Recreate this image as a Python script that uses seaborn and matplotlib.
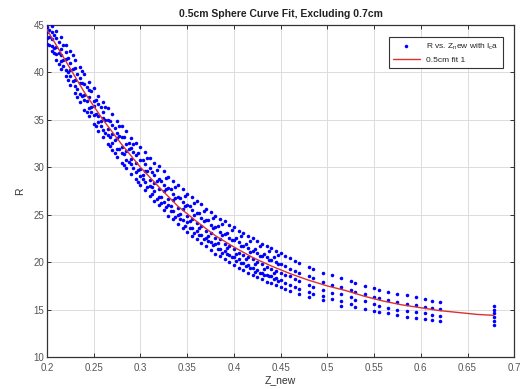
import numpy as np
import pandas as pd
import matplotlib
matplotlib.use("Agg")
import matplotlib.pyplot as plt
import seaborn as sns

z_cols = [
    0.200, 0.205, 0.210, 0.215, 0.220, 0.225, 0.230, 0.235, 0.240, 0.245,
    0.250, 0.255, 0.260, 0.265, 0.270, 0.275, 0.280, 0.285, 0.290, 0.295,
    0.300, 0.305, 0.310, 0.315, 0.320, 0.325, 0.330, 0.335, 0.340, 0.345,
    0.350, 0.355, 0.360, 0.365, 0.370, 0.375, 0.380, 0.385, 0.390, 0.395,
    0.400, 0.405, 0.410, 0.415, 0.420, 0.425, 0.430, 0.435, 0.440, 0.445,
    0.450, 0.455, 0.460, 0.465, 0.470, 0.480, 0.485, 0.495, 0.505, 0.515,
    0.525, 0.530, 0.540, 0.550, 0.555, 0.565, 0.575, 0.585, 0.595, 0.605,
    0.612, 0.620, 0.678,
]
r_cols = [
    [44.8, 44.2, 43.6, 43.0],
    [44.9, 44.3, 43.5, 42.8, 42.2],
    [44.4, 43.6, 42.7, 41.9, 41.3],
    [43.7, 42.5, 41.8, 41.2, 40.4],
    [42.9, 42.1, 41.4, 40.2, 39.6],
    [42.2, 41.0, 40.3, 39.6, 38.7],
    [41.3, 40.5, 39.2, 38.6, 37.8],
    [40.6, 39.4, 38.9, 37.7, 36.9],
    [39.8, 38.8, 37.6, 37.1, 36.0],
    [39.0, 38.1, 37.4, 36.2, 35.4],
    [38.4, 37.0, 36.5, 35.5, 34.6],
    [37.5, 36.7, 35.4, 34.8, 33.8],
    [36.9, 35.8, 35.2, 33.9, 33.2],
    [36.2, 35.0, 34.0, 33.4, 32.5],
    [35.6, 34.5, 33.5, 32.6, 31.8],
    [34.9, 33.6, 33.1, 31.9, 31.1],
    [34.3, 33.2, 32.1, 31.5, 30.5],
    [33.8, 32.4, 31.7, 30.8, 29.9],
    [33.1, 32.0, 30.9, 30.3, 29.3],
    [32.6, 31.3, 30.5, 29.5, 28.8],
    [32.1, 30.8, 29.8, 29.1, 28.1],
    [31.6, 30.3, 29.6, 28.4, 27.6],
    [31.0, 29.9, 28.7, 28.0, 27.0],
    [30.5, 29.2, 28.3, 27.5, 26.4],
    [30.1, 28.8, 27.7, 26.9, 26.0],
    [29.6, 28.1, 27.5, 26.3, 25.5],
    [29.0, 27.8, 26.7, 26.0, 24.9],
    [28.6, 27.2, 26.5, 25.4, 24.5],
    [28.1, 26.9, 25.7, 25.0, 24.0],
    [27.7, 26.3, 25.6, 24.4, 23.6],
    [27.2, 26.0, 24.9, 24.2, 23.2],
    [26.9, 25.5, 24.6, 23.6, 22.8],
    [26.4, 25.2, 24.1, 23.3, 22.4],
    [26.1, 24.7, 23.8, 22.9, 22.0],
    [25.6, 24.4, 23.3, 22.6, 21.7],
    [25.3, 23.9, 23.1, 22.1, 21.3],
    [24.9, 23.7, 22.6, 21.9, 20.9],
    [24.6, 23.2, 22.4, 21.4, 20.6],
    [24.3, 23.0, 21.9, 21.2, 20.3],
    [23.9, 22.6, 21.7, 20.8, 20.0],
    [23.7, 22.3, 21.4, 20.5, 19.7],
    [23.3, 22.1, 21.0, 20.3, 19.4],
    [23.1, 21.7, 20.8, 19.9, 19.2],
    [22.8, 21.5, 20.5, 19.7, 18.9],
    [22.5, 21.2, 20.3, 19.4, 18.6],
    [22.2, 21.0, 20.0, 19.2, 18.4],
    [21.9, 20.7, 19.8, 18.9, 18.2],
    [21.7, 20.5, 19.5, 18.7, 17.9],
    [21.5, 20.2, 19.3, 18.5, 17.8],
    [21.2, 20.0, 19.1, 18.3, 17.6],
    [21.0, 19.8, 18.9, 18.1, 17.4],
    [20.7, 19.6, 18.6, 17.8, 17.2],
    [20.4, 19.3, 18.5, 17.6, 17.0],
    [20.1, 19.1, 18.2, 17.4],
    [19.9, 18.9, 18.0, 17.2, 16.7],
    [19.5, 18.5, 17.6, 16.9, 16.3],
    [19.3, 18.3, 17.4, 16.6],
    [18.9, 17.9, 17.1, 16.4, 16.0],
    [18.6, 17.6, 16.8, 16.1],
    [18.3, 17.4, 16.6, 15.9, 15.4],
    [18.0, 17.1, 16.3, 15.6],
    [17.8, 16.9, 16.0, 15.3],
    [17.5, 16.6, 15.9, 15.1],
    [17.3, 16.3, 15.6, 14.9],
    [17.1, 16.2, 15.4, 14.7],
    [16.9, 16.0, 15.2, 14.6],
    [16.6, 15.8, 15.0, 14.4],
    [16.5, 15.6, 14.9, 14.2],
    [16.3, 15.5, 14.7, 14.1],
    [16.1, 15.3, 14.6, 14.0],
    [15.9, 15.2, 14.4, 13.9],
    [15.8, 15.1, 14.3, 13.8],
    [15.4, 15.0, 14.6, 14.2, 13.8, 13.4],
]

# in-between columns in the dense part of the cloud
z_cols_b = [
    0.2025, 0.2075, 0.2125, 0.2175, 0.2225, 0.2275, 0.2325, 0.2375, 0.2425, 0.2475,
    0.2525, 0.2575, 0.2625, 0.2675, 0.2725, 0.2775, 0.2825, 0.2875, 0.2925, 0.2975,
    0.3025, 0.3075, 0.3125, 0.3175, 0.3225, 0.3275, 0.3325, 0.3375, 0.3425, 0.3475,
    0.3525, 0.3575, 0.3625, 0.3675, 0.3725, 0.3775, 0.3825, 0.3875, 0.3925, 0.3975,
    0.4025, 0.4075, 0.4125, 0.4175, 0.4225, 0.4275, 0.4325, 0.4375, 0.4425, 0.4475,
]
r_cols_b = [
    [44.5, 43.7, 42.9], [43.9, 42.6, 42.0], [43.2, 42.0, 40.9], [42.9, 41.3, 40.7],
    [41.5, 40.0, 39.2], [41.8, 40.4, 39.1], [39.8, 38.2, 37.4], [40.1, 38.9, 37.5],
    [38.5, 37.0, 35.8], [38.0, 36.3, 35.8], [37.1, 35.6, 34.3], [36.4, 34.9, 34.4],
    [36.3, 35.0, 33.6], [34.9, 33.2, 32.2], [34.1, 32.9, 31.5], [34.3, 33.3, 31.9],
    [33.2, 31.4, 30.2], [32.6, 31.9, 30.6], [32.4, 31.6, 29.9], [31.5, 29.7, 28.5],
    [30.8, 29.2, 28.8], [31.0, 29.6, 27.9], [29.5, 27.9, 27.2], [29.7, 28.6, 26.7],
    [28.6, 26.9, 26.2], [28.9, 27.7, 25.8], [27.7, 25.9, 25.4], [27.9, 26.8, 24.8],
    [26.8, 25.1, 24.5], [27.0, 25.9, 23.8], [25.9, 24.3, 23.6], [26.2, 25.0, 23.1],
    [25.2, 23.6, 22.9], [25.4, 24.3, 22.4], [24.4, 22.8, 22.2], [24.7, 23.6, 21.8],
    [23.8, 22.0, 21.4], [24.0, 22.9, 21.0], [23.1, 21.5, 20.9], [23.4, 22.3, 20.5],
    [22.6, 20.9, 20.1], [22.8, 21.7, 19.9], [21.9, 20.3, 19.6], [22.2, 21.1, 19.4],
    [21.4, 19.8, 19.0], [21.7, 20.6, 18.9], [20.9, 19.3, 18.6], [21.2, 20.2, 18.5],
    [20.5, 18.9, 18.2], [20.8, 19.8, 18.0],
]

# fitted curve
fit_z = [0.20, 0.22, 0.24, 0.26, 0.28, 0.30, 0.32, 0.34, 0.36, 0.38, 0.40, 0.42, 0.44,
         0.46, 0.48, 0.50, 0.52, 0.54, 0.56, 0.58, 0.60, 0.62, 0.64, 0.66, 0.678]
fit_r = [44.5, 41.2, 37.9, 35.0, 32.4, 30.0, 27.9, 25.9, 24.3, 22.8, 21.6, 20.5, 19.6,
         18.8, 18.1, 17.5, 17.0, 16.4, 15.9, 15.5, 15.2, 14.9, 14.7, 14.5, 14.4]

x_ticks = [0.2, 0.25, 0.3, 0.35, 0.4, 0.45, 0.5, 0.55, 0.6, 0.65, 0.7]
y_ticks = [10, 15, 20, 25, 30, 35, 40, 45]

all_z = z_cols + z_cols_b
all_r = r_cols + r_cols_b
pts = pd.DataFrame({
    "Z_new": [z for z, rs in zip(all_z, all_r) for _ in rs],
    "R": [r for rs in all_r for r in rs],
})
fit = pd.DataFrame({"Z_new": fit_z, "R": fit_r})

sns.set_theme(style="ticks")
plt.rcParams["font.family"] = ["Liberation Sans", "DejaVu Sans"]
plt.rcParams["mathtext.fontset"] = "custom"
plt.rcParams["mathtext.rm"] = "Liberation Sans"

fig = plt.figure(figsize=(5.28, 3.89), dpi=100)
ax = fig.add_axes([0.089, 0.082, 0.885, 0.854])

sns.scatterplot(data=pts, x="Z_new", y="R", ax=ax, color="#0000ff", marker=".",
                s=26, linewidth=0, label=r"R vs. Z$_{\rm n}$ew with I$_{\rm c}$a", zorder=3)
sns.lineplot(data=fit, x="Z_new", y="R", ax=ax, color="#d9322e", linewidth=1.0,
             label="0.5cm fit 1", zorder=4)

ax.set_xlim(0.2, 0.7)
ax.set_ylim(10, 45)
ax.set_xticks(x_ticks)
ax.set_xticklabels([f"{t:g}" for t in x_ticks])
ax.set_yticks(y_ticks)
ax.grid(True, color="#dcdcdc", linewidth=0.7)
ax.set_axisbelow(True)
ax.tick_params(direction="in", length=3, width=0.7, labelsize=7, colors="#333333",
               top=True, right=True, labelcolor="#555555", pad=2)
ax.tick_params(axis="x", pad=4)
for sp in ax.spines.values():
    sp.set_visible(True)
    sp.set_color("#333333")
    sp.set_linewidth(0.9)

ax.set_xlabel("Z_new", fontsize=7.5, color="#333333", labelpad=2)
ax.set_ylabel("R", fontsize=7.5, color="#333333", labelpad=6)
ax.set_title("0.5cm Sphere Curve Fit, Excluding 0.7cm", fontsize=7.5,
             fontweight="bold", color="#222222", pad=6)

leg = ax.legend(loc="upper right", fontsize=6, frameon=True, fancybox=False,
                framealpha=1, edgecolor="#333333", borderpad=0.5,
                handlelength=3.2, bbox_to_anchor=(0.985, 0.975))
leg.get_frame().set_linewidth(0.8)

fig.savefig("out.png", dpi=100)
